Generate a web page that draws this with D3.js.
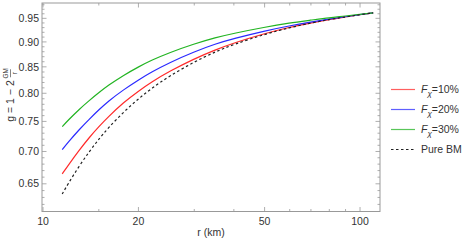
<!DOCTYPE html>
<html>
<head>
<meta charset="utf-8">
<script src="https://cdn.jsdelivr.net/npm/d3@7"></script>
<style>
  body { margin: 0; background: #fff; }
  text { font-family: "Liberation Sans", Arial, sans-serif; }
</style>
</head>
<body>
<svg id="chart"></svg>
<script>
// radius (km) where values were read
const radius = [11.5, 12, 13, 14, 15, 16, 18, 20, 22, 25, 30, 35, 40, 50, 60, 70, 80, 90, 100, 110];
// g values
const fx10 = [0.665, 0.678, 0.702, 0.723, 0.741, 0.757, 0.784, 0.804, 0.821, 0.841, 0.866, 0.884, 0.898, 0.9175, 0.931, 0.940, 0.9475, 0.953, 0.958, 0.962];
const fx20 = [0.703, 0.715, 0.736, 0.754, 0.770, 0.785, 0.807, 0.825, 0.840, 0.858, 0.880, 0.896, 0.907, 0.923, 0.934, 0.942, 0.9485, 0.9535, 0.958, 0.962];
const fx30 = [0.741, 0.752, 0.771, 0.787, 0.801, 0.814, 0.834, 0.850, 0.863, 0.878, 0.896, 0.909, 0.918, 0.931, 0.940, 0.946, 0.9515, 0.955, 0.959, 0.962];
const pureBM = [0.635, 0.650, 0.677, 0.700, 0.720, 0.738, 0.767, 0.790, 0.809, 0.832, 0.860, 0.880, 0.895, 0.916, 0.930, 0.940, 0.9475, 0.953, 0.958, 0.962];

const xTicks = [10, 20, 50, 100];
const xMinor = [15, 30, 40, 60, 70, 80, 90];
const yTicks = [0.65, 0.70, 0.75, 0.80, 0.85, 0.90, 0.95];
const yMinor = d3.range(61, 99).map(d => d / 100);

const series = [
  { name: "10%", values: fx10, color: "#ff2a2a", dash: null },
  { name: "20%", values: fx20, color: "#2a2aff", dash: null },
  { name: "30%", values: fx30, color: "#22b422", dash: null },
  { name: "Pure BM", values: pureBM, color: "#222", dash: "2.5,2.5" }
];

const width = 464, height = 241;
const svg = d3.select("#chart").attr("width", width).attr("height", height);

const pLeft = 42, pRight = 380, pTop = 3, pBottom = 211.5;

const x = d3.scaleLog().domain([9.928, 115.6]).range([pLeft, pRight]);
const y = d3.scaleLog().domain([0.61, 0.984]).range([pBottom, pTop]);

const axisColor = "#999";
const labelColor = "#333";

// frame
svg.append("rect")
  .attr("x", pLeft).attr("y", pTop)
  .attr("width", pRight - pLeft).attr("height", pBottom - pTop)
  .attr("fill", "none").attr("stroke", axisColor).attr("stroke-width", 1);

// ticks (inward, all four sides)
const tickG = svg.append("g").attr("stroke", axisColor).attr("stroke-width", 0.8);
function xTick(v, len) {
  tickG.append("line").attr("x1", x(v)).attr("x2", x(v)).attr("y1", pBottom).attr("y2", pBottom - len);
  tickG.append("line").attr("x1", x(v)).attr("x2", x(v)).attr("y1", pTop).attr("y2", pTop + len);
}
function yTick(v, len) {
  tickG.append("line").attr("x1", pLeft).attr("x2", pLeft + len).attr("y1", y(v)).attr("y2", y(v));
  tickG.append("line").attr("x1", pRight).attr("x2", pRight - len).attr("y1", y(v)).attr("y2", y(v));
}
xTicks.forEach(v => xTick(v, 4.5));
xMinor.forEach(v => xTick(v, 2.5));
yTicks.forEach(v => yTick(v, 4.5));
yMinor.filter(v => !yTicks.some(t => Math.abs(t - v) < 1e-6)).forEach(v => yTick(v, 2.5));

// tick labels
svg.append("g").selectAll("text").data(xTicks).join("text")
  .attr("x", d => x(d)).attr("y", 225)
  .attr("text-anchor", "middle").attr("font-size", 10.5).attr("fill", labelColor)
  .text(d => d);

svg.append("g").selectAll("text").data(yTicks).join("text")
  .attr("x", 39).attr("y", d => y(d)).attr("dy", "0.35em")
  .attr("text-anchor", "end").attr("font-size", 10.5).attr("fill", labelColor)
  .text(d => d.toFixed(2));

// axis titles
svg.append("text")
  .attr("x", 211).attr("y", 236)
  .attr("text-anchor", "middle").attr("font-size", 10.5).attr("fill", labelColor)
  .text("r (km)");

const yl = svg.append("g").attr("transform", "translate(14,95) rotate(-90)");
const main = yl.append("text")
  .attr("font-size", 10.5).attr("fill", labelColor)
  .text("g = 1 \u2212 2");
const mw = main.node().getComputedTextLength();
const fracW = 12;
const total = mw + fracW;
main.attr("x", -total / 2);
const fx0 = -total / 2 + mw + fracW / 2 + 1;
yl.append("text").attr("x", fx0).attr("y", -6).attr("text-anchor", "middle")
  .attr("font-size", 6.5).attr("fill", labelColor).text("GM");
yl.append("line").attr("x1", fx0 - 4).attr("x2", fx0 + 4).attr("y1", -3.5).attr("y2", -3.5)
  .attr("stroke", labelColor).attr("stroke-width", 0.6);
yl.append("text").attr("x", fx0).attr("y", 2.5).attr("text-anchor", "middle")
  .attr("font-size", 6.5).attr("fill", labelColor).text("r");

// curves
const line = d3.line()
  .x((d, i) => x(radius[i]))
  .y(d => y(d))
  .curve(d3.curveBasis);

series.forEach(s => {
  svg.append("path")
    .datum(s.values)
    .attr("d", line)
    .attr("fill", "none")
    .attr("stroke", s.color)
    .attr("stroke-width", 1.2)
    .attr("stroke-dasharray", s.dash);
});

// legend
const legendY = [89.5, 109.5, 129.5, 149.5];
series.forEach((s, i) => {
  const g = svg.append("g").attr("transform", `translate(391,${legendY[i]})`);
  g.append("line").attr("x1", 0).attr("x2", 24).attr("y1", 0).attr("y2", 0)
    .attr("stroke", s.color).attr("stroke-width", 1.2).attr("stroke-dasharray", s.dash)
    .attr("opacity", s.dash ? 1 : 0.75);
  const t = g.append("text").attr("x", 30).attr("y", 0).attr("dy", "0.35em")
    .attr("font-size", 10.5).attr("fill", labelColor);
  if (s.dash) {
    t.text(s.name);
  } else {
    t.append("tspan").attr("font-style", "italic").text("F");
    t.append("tspan").attr("font-style", "italic").attr("font-size", 8).attr("dy", "0.3em").text("\u03c7");
    t.append("tspan").attr("dy", "-0.25em").text("=" + s.name);
  }
});
</script>
</body>
</html>
